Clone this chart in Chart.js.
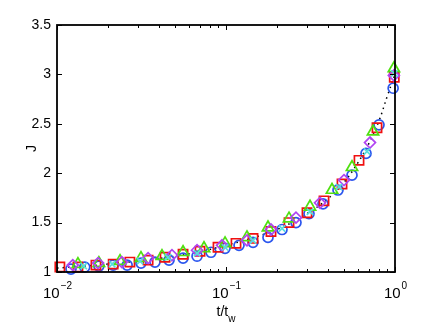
<!DOCTYPE html>
<html>
<head>
<meta charset="utf-8">
<script src="https://cdn.jsdelivr.net/npm/chart.js@4"></script>
<style>
  html, body { margin: 0; padding: 0; background: #fff; }
  #wrap { width: 436px; height: 327px; }
</style>
</head>
<body>
<div id="wrap"><canvas id="chart" width="436" height="327"></canvas></div>
<script>
// t/tw and J, one pair of arrays per marker series
const tBlue = [0.0121, 0.0146, 0.0177, 0.0215, 0.026, 0.0314, 0.038, 0.046, 0.0557, 0.0674, 0.0815, 0.0987, 0.1194, 0.1445, 0.1772, 0.2145, 0.2595, 0.3098, 0.375, 0.4599, 0.5567, 0.6736, 0.8042, 0.975]
const jBlue = [1.03, 1.05, 1.06, 1.07, 1.07, 1.09, 1.10, 1.12, 1.14, 1.16, 1.20, 1.24, 1.27, 1.30, 1.35, 1.43, 1.50, 1.59, 1.69, 1.83, 1.98, 2.20, 2.49, 2.86]

const tRed = [0.0104, 0.0133, 0.017, 0.0215, 0.027, 0.0346, 0.0436, 0.0557, 0.0702, 0.0897, 0.1146, 0.1445, 0.1846, 0.236, 0.3015, 0.3801, 0.4858, 0.6124, 0.7826, 0.99]
const jRed = [1.05, 1.05, 1.07, 1.08, 1.10, 1.12, 1.15, 1.18, 1.21, 1.25, 1.29, 1.34, 1.41, 1.50, 1.60, 1.72, 1.89, 2.13, 2.46, 2.97]

const tGreen = [0.0133, 0.0177, 0.0236, 0.0314, 0.0418, 0.0557, 0.0741, 0.0987, 0.1331, 0.1772, 0.236, 0.3141, 0.4239, 0.5567, 0.7409, 0.985]
const jGreen = [1.08, 1.09, 1.11, 1.14, 1.16, 1.20, 1.24, 1.29, 1.35, 1.45, 1.54, 1.66, 1.83, 2.06, 2.42, 3.06]

const tMagenta = [0.0124, 0.0175, 0.0242, 0.0346, 0.0479, 0.0674, 0.0947, 0.1331, 0.1846, 0.2595, 0.3599, 0.4991, 0.7113, 0.985]
const jMagenta = [1.07, 1.09, 1.10, 1.14, 1.17, 1.22, 1.27, 1.32, 1.43, 1.55, 1.70, 1.93, 2.31, 2.99]

const tCyan = [0.0144, 0.0212, 0.031, 0.0454, 0.0674, 0.0987, 0.1445, 0.2145, 0.3141, 0.4663, 0.6829, 0.99]
const jCyan = [1.06, 1.08, 1.11, 1.15, 1.19, 1.25, 1.32, 1.44, 1.61, 1.86, 2.22, 3.01]

// dotted fit curve
const tFit = [0.01, 0.02, 0.05, 0.1, 0.2, 0.3, 0.4, 0.5, 0.6, 0.7, 0.8, 0.9, 1]
const jFit = [1.04, 1.08, 1.16, 1.27, 1.43, 1.59, 1.74, 1.91, 2.10, 2.30, 2.52, 2.78, 3.0]

// axis ticks
const yTicks = [1, 1.5, 2, 2.5, 3, 3.5]
const yTickLabels = ["1", "1.5", "2", "2.5", "3", "3.5"]
const xMajor = [0.01, 0.1, 1]
const xMajorExp = ["\u22122", "\u22121", "0"]
const xMinor = [0.02, 0.03, 0.04, 0.05, 0.06, 0.07, 0.08, 0.09, 0.2, 0.3, 0.4, 0.5, 0.6, 0.7, 0.8, 0.9]

const FONT = "\"Liberation Sans\", Arial, Helvetica, sans-serif"

const pts = (ts, js) => ts.map((t, i) => ({ x: t, y: js[i] }))

function markers(label, ts, js, style, color, radius) {
  return {
    label: label,
    data: pts(ts, js),
    showLine: false,
    pointStyle: style,
    pointRadius: radius,
    pointHoverRadius: radius,
    pointBorderColor: color,
    pointBackgroundColor: "rgba(0,0,0,0)",
    pointBorderWidth: 1.7,
    borderColor: color,
    clip: false
  }
}

const frame = {
  id: "frame",
  afterDatasetsDraw(chart) {
    const { ctx, chartArea: a, scales: { x, y } } = chart
    ctx.save()
    ctx.strokeStyle = "#000"
    ctx.lineWidth = 1
    ctx.beginPath()
    yTicks.forEach(v => {
      const py = Math.round(y.getPixelForValue(v)) + 0.5
      ctx.moveTo(a.left, py); ctx.lineTo(a.left + 5, py)
      ctx.moveTo(a.right, py); ctx.lineTo(a.right - 5, py)
    })
    xMajor.forEach(v => {
      const px = Math.round(x.getPixelForValue(v)) + 0.5
      ctx.moveTo(px, a.bottom); ctx.lineTo(px, a.bottom - 5)
      ctx.moveTo(px, a.top); ctx.lineTo(px, a.top + 5)
    })
    xMinor.forEach(v => {
      const px = Math.round(x.getPixelForValue(v)) + 0.5
      ctx.moveTo(px, a.bottom); ctx.lineTo(px, a.bottom - 3)
      ctx.moveTo(px, a.top); ctx.lineTo(px, a.top + 3)
    })
    ctx.stroke()
    ctx.lineWidth = 1.8
    ctx.strokeRect(a.left, a.top, a.right - a.left, a.bottom - a.top)
    ctx.restore()
  },
  afterDraw(chart) {
    const { ctx, chartArea: a, scales: { x, y } } = chart
    ctx.save()
    ctx.fillStyle = "#000"

    // y tick labels
    ctx.font = "14px " + FONT
    ctx.textAlign = "right"
    ctx.textBaseline = "middle"
    yTicks.forEach((v, i) => {
      ctx.fillText(yTickLabels[i], a.left - 6, y.getPixelForValue(v))
    })

    // x tick labels 10^n
    ctx.textAlign = "left"
    ctx.textBaseline = "alphabetic"
    xMajor.forEach((v, i) => {
      const px = x.getPixelForValue(v)
      ctx.font = "15px " + FONT
      const wBase = ctx.measureText("10").width
      ctx.font = "10px " + FONT
      const wExp = ctx.measureText(xMajorExp[i]).width
      const left = px - (wBase + wExp) / 2
      ctx.font = "15px " + FONT
      ctx.fillText("10", left, a.bottom + 26)
      ctx.font = "10px " + FONT
      ctx.fillText(xMajorExp[i], left + wBase + 1, a.bottom + 17)
    })

    // x axis title t/t_w
    const cx = (a.left + a.right) / 2
    ctx.font = "14px " + FONT
    const wMain = ctx.measureText("t/t").width
    ctx.font = "10px " + FONT
    const wSub = ctx.measureText("w").width
    const xl = cx - (wMain + wSub) / 2
    ctx.font = "14px " + FONT
    ctx.fillText("t/t", xl, a.bottom + 44)
    ctx.font = "10px " + FONT
    ctx.fillText("w", xl + wMain, a.bottom + 50)

    // y axis title
    ctx.font = "14px " + FONT
    ctx.translate(36, (a.top + a.bottom) / 2)
    ctx.rotate(-Math.PI / 2)
    ctx.textAlign = "center"
    ctx.fillText("J", 0, 0)
    ctx.restore()
  }
}

const config = {
  type: "scatter",
  data: {
    datasets: [
      markers("cyan", tCyan, jCyan, "crossRot", "#55dede", 4.5),
      markers("magenta", tMagenta, jMagenta, "rectRot", "#b044f2", 5.5),
      markers("green", tGreen, jGreen, "triangle", "#4fe010", 6.5),
      markers("red", tRed, jRed, "rect", "#f01010", 6.5),
      markers("blue", tBlue, jBlue, "circle", "#2a55ee", 5),
      {
        label: "fit",
        data: pts(tFit, jFit),
        showLine: true,
        borderColor: "#000",
        borderWidth: 1.5,
        borderDash: [1.5, 4],
        pointRadius: 0,
        tension: 0.4,
        clip: false
      }
    ]
  },
  options: {
    responsive: false,
    devicePixelRatio: 1,
    animation: false,
    layout: {
      padding: { left: 57, right: 41, top: 25, bottom: 55 }
    },
    scales: {
      x: { type: "logarithmic", min: 0.01, max: 1, display: false },
      y: { type: "linear", min: 1, max: 3.5, display: false }
    },
    plugins: {
      legend: { display: false },
      tooltip: { enabled: false }
    }
  },
  plugins: [frame]
}

new Chart(document.getElementById("chart"), config)
</script>
</body>
</html>
